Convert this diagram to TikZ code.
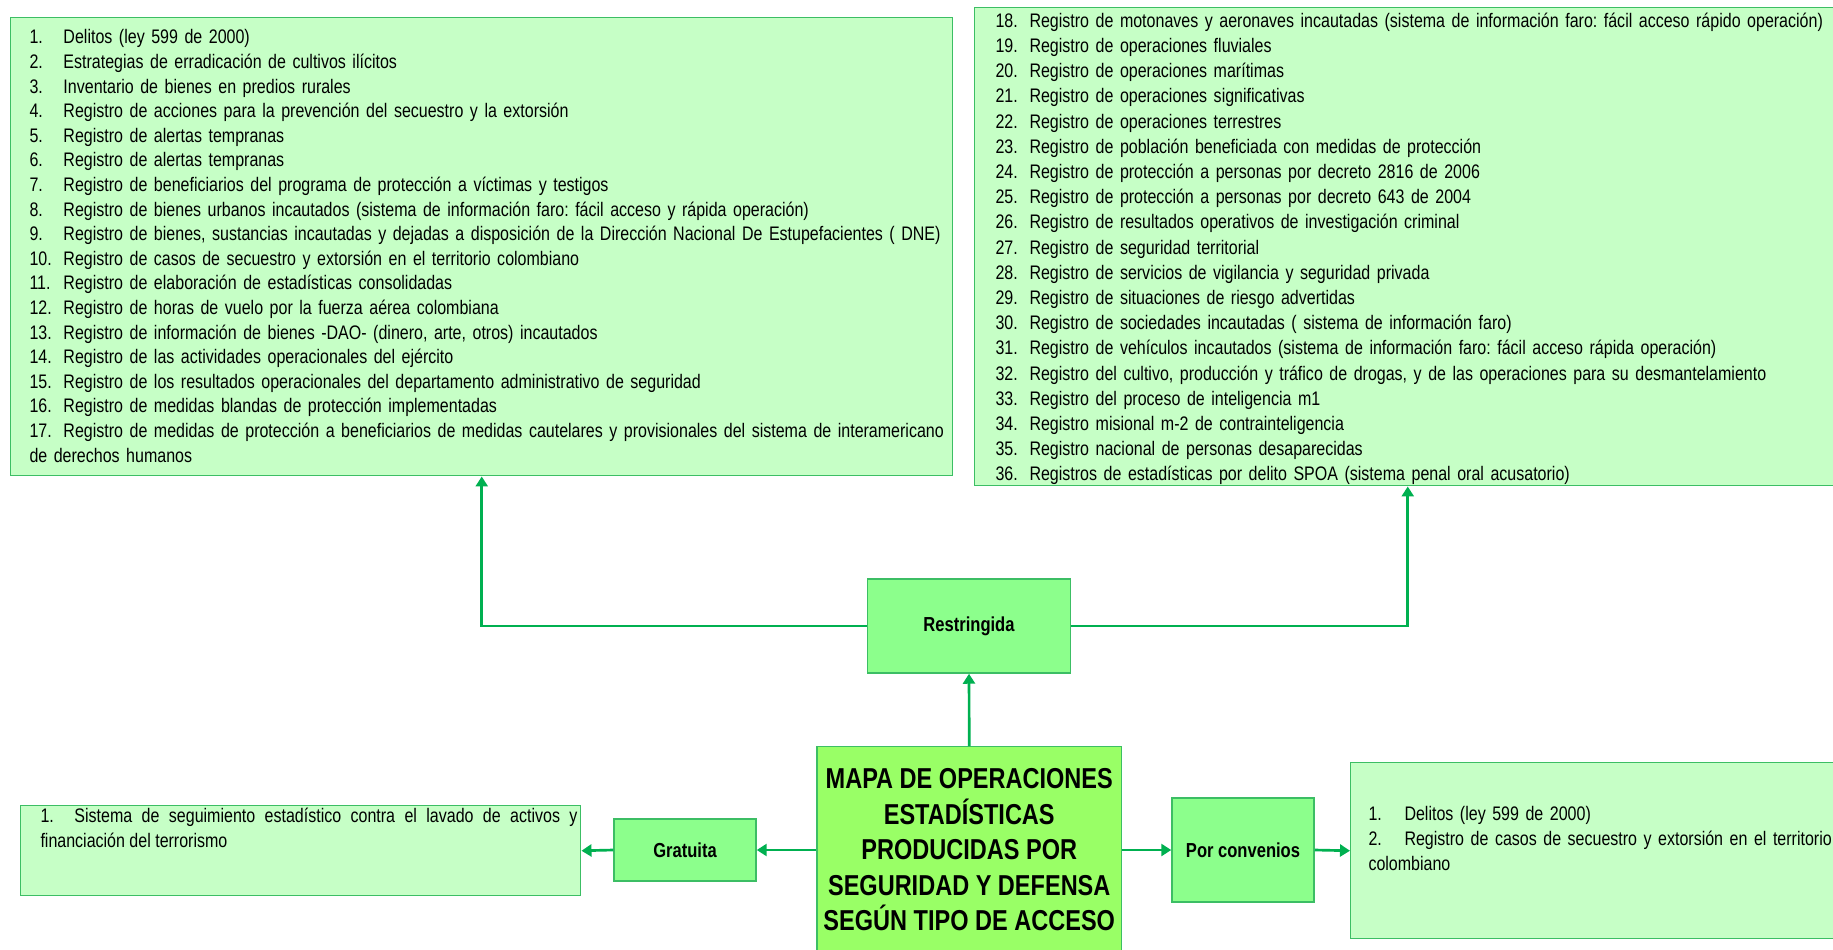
\documentclass[tikz,border=0pt]{standalone}
\usepackage{fontspec}
\setmainfont{Liberation Sans}[FakeStretch=0.817]
\usetikzlibrary{arrows.meta}

\definecolor{verdelista}{RGB}{198,255,198}
\definecolor{verdecat}{RGB}{140,255,140}
\definecolor{verdetitulo}{RGB}{153,255,102}
\definecolor{bordeverde}{RGB}{60,190,100}
\definecolor{flechaverde}{RGB}{0,176,80}

\tikzset{every picture/.style={line width=0.75pt}}
\tikzset{
  caja/.style={draw=bordeverde, line width=1.1pt, inner sep=0pt},
  lista/.style={caja, fill=verdelista, anchor=north west},
  categoria/.style={caja, fill=verdecat, font=\bfseries\fontsize{15.2}{17}\selectfont},
  titulo/.style={caja, fill=verdetitulo, align=center, font=\bfseries\fontsize{21.6}{26.55}\selectfont},
  textolista/.style={anchor=north west, inner sep=0pt, align=left, font=\fontsize{14.7}{18.45}\selectfont},
  flecha/.style={draw=flechaverde, line width=2pt, -{Triangle[length=7.5pt,width=9pt]}}
}
\newcommand{\itm}[1]{\strut\makebox[25.5pt][l]{#1}}
\frenchspacing

\begin{document}
\begin{tikzpicture}[x=0.75pt,y=0.75pt,yscale=-1,xscale=1]
\useasboundingbox (0,0) rectangle (1833,949);

%Shape: Rectangle [id:listaA]
\node[lista, minimum width=706.5pt, minimum height=343.5pt] (listaA) at (10,17) {};
\node[textolista, text width=780pt] (textoA) at (29,26.1) {\itm{1.}Delitos (ley 599 de 2000)\\
\itm{2.}Estrategias de erradicación de cultivos ilícitos\\
\itm{3.}Inventario de bienes en predios rurales\\
\itm{4.}Registro de acciones para la prevención del secuestro y la extorsión\\
\itm{5.}Registro de alertas tempranas\\
\itm{6.}Registro de alertas tempranas\\
\itm{7.}Registro de beneficiarios del programa de protección a víctimas y testigos\\
\itm{8.}Registro de bienes urbanos incautados (sistema de información faro: fácil acceso y rápida operación)\\
\itm{9.}Registro de bienes, sustancias incautadas y dejadas a disposición de la Dirección Nacional De Estupefacientes ( DNE)\\
\itm{10.}Registro de casos de secuestro y extorsión en el territorio colombiano\\
\itm{11.}Registro de elaboración de estadísticas consolidadas\\
\itm{12.}Registro de horas de vuelo por la fuerza aérea colombiana\\
\itm{13.}Registro de información de bienes -DAO- (dinero, arte, otros) incautados\\
\itm{14.}Registro de las actividades operacionales del ejército\\
\itm{15.}Registro de los resultados operacionales del departamento administrativo de seguridad\\
\itm{16.}Registro de medidas blandas de protección implementadas\\
\itm{17.}Registro de medidas de protección a beneficiarios de medidas cautelares y provisionales del sistema de interamericano\\
\strut de derechos humanos};

%Shape: Rectangle [id:listaB]
\node[lista, minimum width=649.5pt, minimum height=358.5pt] (listaB) at (974,7) {};
\node[textolista, text width=720pt, font=\fontsize{14.7}{18.9}\selectfont] (textoB) at (995,9.1) {\itm{18.}Registro de motonaves y aeronaves incautadas (sistema de información faro: fácil acceso rápido operación)\\
\itm{19.}Registro de operaciones fluviales\\
\itm{20.}Registro de operaciones marítimas\\
\itm{21.}Registro de operaciones significativas\\
\itm{22.}Registro de operaciones terrestres\\
\itm{23.}Registro de población beneficiada con medidas de protección\\
\itm{24.}Registro de protección a personas por decreto 2816 de 2006\\
\itm{25.}Registro de protección a personas por decreto 643 de 2004\\
\itm{26.}Registro de resultados operativos de investigación criminal\\
\itm{27.}Registro de seguridad territorial\\
\itm{28.}Registro de servicios de vigilancia y seguridad privada\\
\itm{29.}Registro de situaciones de riesgo advertidas\\
\itm{30.}Registro de sociedades incautadas ( sistema de información faro)\\
\itm{31.}Registro de vehículos incautados (sistema de información faro: fácil acceso rápida operación)\\
\itm{32.}Registro del cultivo, producción y tráfico de drogas, y de las operaciones para su desmantelamiento\\
\itm{33.}Registro del proceso de inteligencia m1\\
\itm{34.}Registro misional m-2 de contrainteligencia\\
\itm{35.}Registro nacional de personas desaparecidas\\
\itm{36.}Registros de estadísticas por delito SPOA (sistema penal oral acusatorio)};

%Shape: Rectangle [id:listaC]
\node[lista, minimum width=420pt, minimum height=67.5pt] (listaC) at (20,805) {};
\node[textolista, text width=402.75pt, align=justify, font=\fontsize{14.7}{18.75}\selectfont] (textoC) at (40,804.2) {\itm{1.}Sistema de seguimiento estadístico contra el lavado de activos y\linebreak financiación del terrorismo};

%Shape: Rectangle [id:listaD]
\node[lista, minimum width=367.5pt, minimum height=132pt] (listaD) at (1350,762) {};
\node[textolista, text width=420pt, font=\fontsize{14.7}{18.75}\selectfont] (textoD) at (1368,802) {\makebox[27pt][l]{\strut 1.}Delitos (ley 599 de 2000)\\
\makebox[27pt][l]{\strut 2.}Registro de casos de secuestro y extorsión en el territorio\\
\strut colombiano};

%Shape: Rectangle [id:categorias]
\node[categoria, minimum width=152.25pt, minimum height=70.5pt] (restringida) at (969,626) {Restringida};
\node[categoria, minimum width=106.5pt, minimum height=46.5pt] (gratuita) at (685,850) {Gratuita};
\node[categoria, minimum width=106.5pt, minimum height=78pt] (convenios) at (1243,850) {Por convenios};

%Shape: Rectangle [id:titulo]
\node[titulo, minimum width=228.4pt, minimum height=154.5pt, anchor=north] (titulo) at (969.25,746) {MAPA DE OPERACIONES\\ ESTADÍSTICAS\\ PRODUCIDAS POR\\ SEGURIDAD Y DEFENSA\\ SEGÚN TIPO DE ACCESO};

%Straight Lines [id:flechas]
\draw[flecha] (titulo.north) -- (restringida.south);
\draw[flecha] (restringida.west) -| (listaA.south);
\draw[flecha] (restringida.east) -| (listaB.south);
\draw[flecha] (titulo.west |- gratuita.east) -- (gratuita.east);
\draw[flecha] (gratuita.west) -- (listaC.east);
\draw[flecha] (titulo.east |- convenios.west) -- (convenios.west);
\draw[flecha] (convenios.east) -- (listaD.west);

\end{tikzpicture}
\end{document}
